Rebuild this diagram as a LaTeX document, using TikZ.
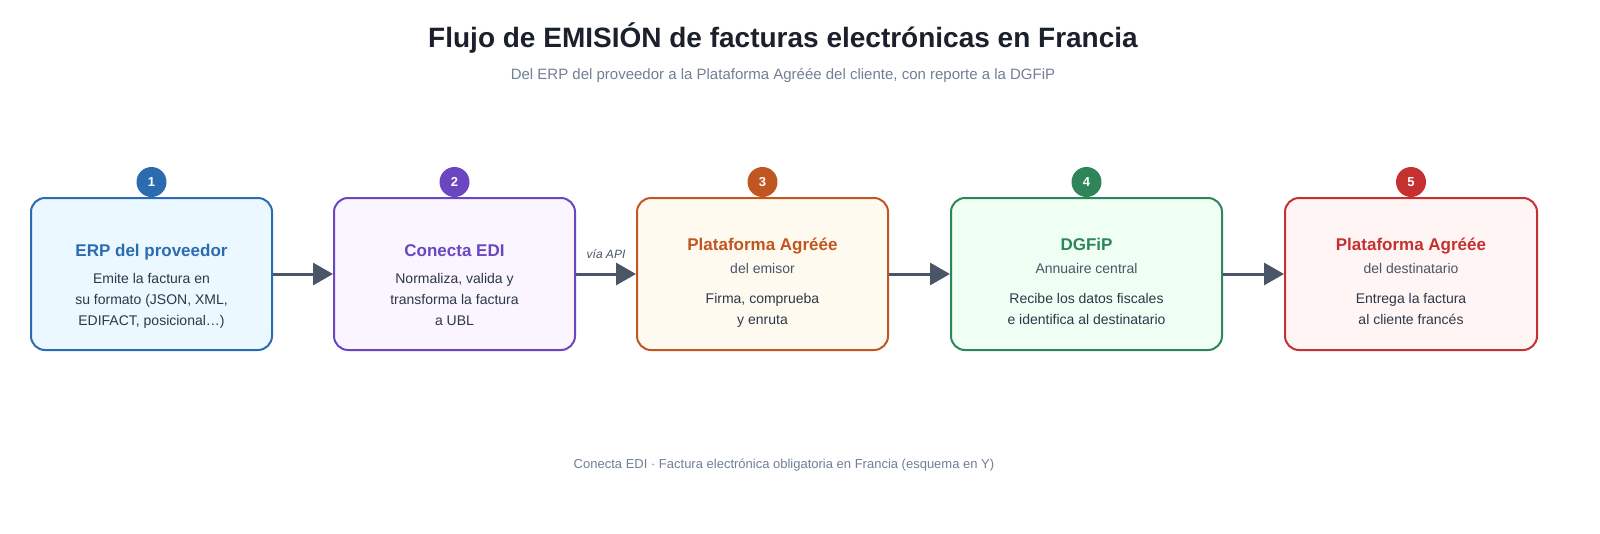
\documentclass[tikz,border=0pt]{standalone}
\usepackage{fontspec}
\setmainfont{Liberation Sans}
\usetikzlibrary{arrows.meta}
\definecolor{inkdark}{HTML}{1A202C}
\definecolor{inkbody}{HTML}{2D3748}
\definecolor{inkgray}{HTML}{718096}
\definecolor{arrowgray}{HTML}{4A5568}
\definecolor{erpline}{HTML}{2B6CB0}
\definecolor{erpfill}{HTML}{EBF8FF}
\definecolor{edline}{HTML}{6B46C1}
\definecolor{edfill}{HTML}{FAF5FF}
\definecolor{paline}{HTML}{C05621}
\definecolor{pafill}{HTML}{FFFAF0}
\definecolor{dgline}{HTML}{2F855A}
\definecolor{dgfill}{HTML}{F0FFF4}
\definecolor{pdline}{HTML}{C53030}
\definecolor{pdfill}{HTML}{FFF5F5}

\begin{document}
\begin{tikzpicture}[x=1pt, y=-1pt,
    stage/.style={rectangle, line width=2pt, rounded corners=14pt, minimum height=152pt, inner sep=0pt},
    badge/.style={circle, minimum size=30pt, inner sep=0pt, text=white, font=\fontsize{13}{13}\selectfont\bfseries},
    stagetitle/.style={anchor=base, inner sep=0pt, font=\fontsize{17}{17}\selectfont\bfseries},
    stagesub/.style={anchor=base, inner sep=0pt, text=arrowgray, font=\fontsize{14}{14}\selectfont},
    stagebody/.style={anchor=north, inner sep=0pt, align=center, text=inkbody, font=\fontsize{14}{21}\selectfont},
    flow/.style={draw=arrowgray, line width=3pt, -{Triangle[length=20pt, width=22pt]}}]

  \useasboundingbox[fill=white] (0,0) rectangle (1600,533);

  % titulo
  \node[text=inkdark, font=\fontsize{28}{28}\selectfont\bfseries] (title) at (783,38) {Flujo de EMISIÓN de facturas electrónicas en Francia};
  \node[text=inkgray, font=\fontsize{15}{15}\selectfont] (subtitle) at (783,76) {Del ERP del proveedor a la Plataforma Agréée del cliente, con reporte a la DGFiP};

  % etapas
  \node[stage, draw=erpline, fill=erpfill, minimum width=241pt] (erp) at (151.5,274) {};
  \node[stage, draw=edline, fill=edfill, minimum width=241pt] (edi) at (454.5,274) {};
  \node[stage, draw=paline, fill=pafill, minimum width=251pt] (pae) at (762.5,274) {};
  \node[stage, draw=dgline, fill=dgfill, minimum width=271pt] (dgfip) at (1086.5,274) {};
  \node[stage, draw=pdline, fill=pdfill, minimum width=252pt] (pad) at (1411,274) {};

  % numeros
  \node[badge, fill=erpline] (n1) at (151.5,182) {1};
  \node[badge, fill=edline] (n2) at (454.5,182) {2};
  \node[badge, fill=paline] (n3) at (762.5,182) {3};
  \node[badge, fill=dgline] (n4) at (1086.5,182) {4};
  \node[badge, fill=pdline] (n5) at (1411,182) {5};

  % textos
  \node[stagetitle, text=erpline] (erpT) at (151.5,256) {ERP del proveedor};
  \node[stagebody] (erpB) at (151.5,273) {Emite la factura en\\su formato (JSON, XML,\\EDIFACT, posicional…)};

  \node[stagetitle, text=edline] (ediT) at (454.5,256) {Conecta EDI};
  \node[stagebody] (ediB) at (454.5,273) {Normaliza, valida y\\transforma la factura\\a UBL};

  \node[stagetitle, text=paline] (paeT) at (762.5,250) {Plataforma Agréée};
  \node[stagesub] (paeS) at (762.5,273) {del emisor};
  \node[stagebody] (paeB) at (762.5,293) {Firma, comprueba\\y enruta};

  \node[stagetitle, text=dgline] (dgfipT) at (1086.5,250) {DGFiP};
  \node[stagesub] (dgfipS) at (1086.5,273) {Annuaire central};
  \node[stagebody] (dgfipB) at (1086.5,293) {Recibe los datos fiscales\\e identifica al destinatario};

  \node[stagetitle, text=pdline] (padT) at (1411,250) {Plataforma Agréée};
  \node[stagesub] (padS) at (1411,273) {del destinatario};
  \node[stagebody] (padB) at (1411,293) {Entrega la factura\\al cliente francés};

  % flechas
  \draw[flow] (erp.east) -- (edi.west);
  \draw[flow] (edi.east) -- node[yshift=20pt, text=arrowgray, font=\fontsize{12}{12}\selectfont\itshape] (api) {vía API} (pae.west);
  \draw[flow] (pae.east) -- (dgfip.west);
  \draw[flow] (dgfip.east) -- (pad.west);

  % pie
  \node[text=inkgray, font=\fontsize{13}{13}\selectfont] (footer) at (784,465) {Conecta EDI · Factura electrónica obligatoria en Francia (esquema en Y)};
\end{tikzpicture}
\end{document}
